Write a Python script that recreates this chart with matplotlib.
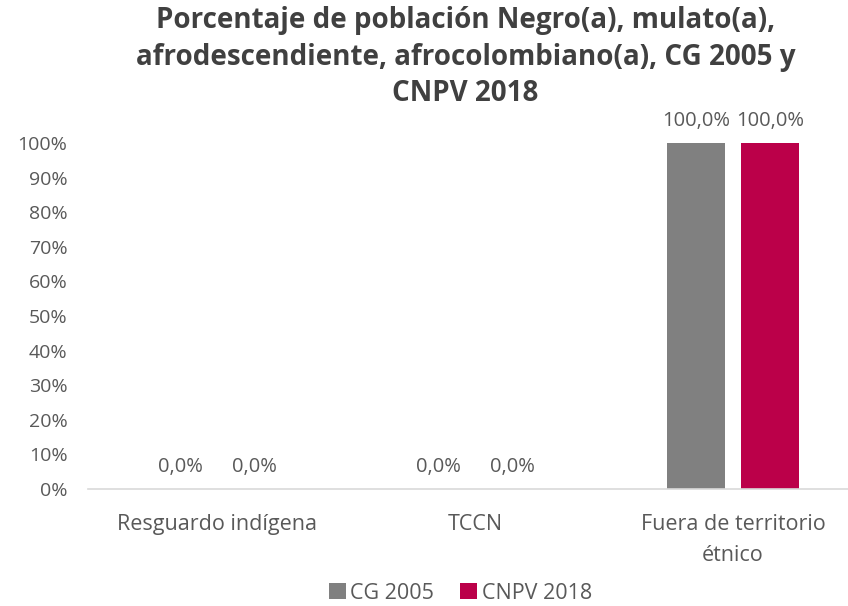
import numpy as np
from matplotlib import pyplot as plt

plt.rcParams['font.family'] = ['Open Sans', 'DejaVu Sans']

categorias = ['Resguardo indígena', 'TCCN', 'Fuera de territorio\nétnico']
cg_2005 = [0.0, 0.0, 100.0]
cnpv_2018 = [0.0, 0.0, 100.0]
series = ['CG 2005', 'CNPV 2018']
colores = ['#808080', '#bb0049']
texto = '#595959'

fig = plt.figure(figsize=(8.48, 6.06), dpi=100)
ax = fig.add_axes([0.104, 0.193, 0.896, 0.571])

x = np.arange(len(categorias))
ancho = 0.225
desp = 0.143

for vals, nombre, color, d in zip([cg_2005, cnpv_2018], series, colores, [-desp, desp]):
    barras = ax.bar(x + d, [v / 100 for v in vals], ancho, color=color, label=nombre)
    for b, v in zip(barras, vals):
        ax.annotate(f'{v:.1f}%'.replace('.', ','),
                    (b.get_x() + b.get_width() / 2, b.get_height()),
                    xytext=(0, 9), textcoords='offset points',
                    ha='center', va='bottom', fontsize=14.5, color=texto)

ax.set_xlim(-0.5, 2.446)
ax.set_ylim(0, 1)
ax.set_yticks(np.arange(0, 1.01, 0.1))
ax.set_yticklabels([f'{int(round(t * 100))}%' for t in np.arange(0, 1.01, 0.1)])
ax.set_xticks(x)
ax.set_xticklabels(categorias, linespacing=1.65)
ax.tick_params(axis='both', length=0, labelcolor=texto)
ax.tick_params(axis='x', pad=18, labelsize=15.5)
ax.tick_params(axis='y', pad=15, labelsize=14)

for s in ['top', 'right', 'left']:
    ax.spines[s].set_visible(False)
ax.spines['bottom'].set_color('#d9d9d9')
ax.spines['bottom'].set_linewidth(1.2)

fig.text(0.549, 0.99,
         'Porcentaje de población Negro(a), mulato(a),\n'
         'afrodescendiente, afrocolombiano(a), CG 2005 y\nCNPV 2018',
         ha='center', va='top', fontsize=20, fontweight='bold',
         color='#404040', linespacing=1.35)

fig.legend(loc='lower center', bbox_to_anchor=(0.543, -0.028), ncol=2,
           frameon=False, fontsize=15.5, labelcolor=texto,
           handlelength=0.8, handleheight=0.8, handletextpad=0.2, columnspacing=1.2)

plt.savefig('out.png', dpi=100)
